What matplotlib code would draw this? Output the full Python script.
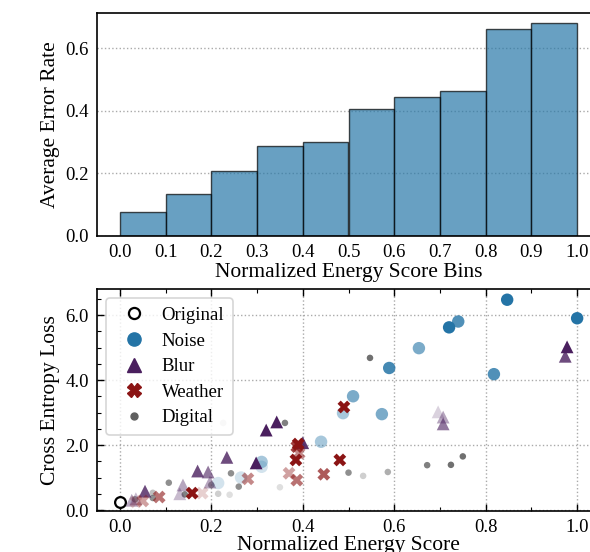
import matplotlib
matplotlib.use("Agg")
import matplotlib.pyplot as plt
import numpy as np

plt.rcParams['font.family'] = ['Liberation Serif', 'DejaVu Serif']
plt.rcParams['mathtext.fontset'] = 'stix'

# ---- data: top histogram ----
bin_edges = [0.0, 0.1, 0.2, 0.3, 0.4, 0.5, 0.6, 0.7, 0.8, 0.9, 1.0]
error_rate = [0.077, 0.134, 0.208, 0.286, 0.300, 0.407, 0.443, 0.462, 0.660, 0.680]

# ---- data: bottom scatter (x, y, alpha = severity shade) ----
orig_x = [0.0]
orig_y = [0.25]

noise_x = [0.847, 1.0, 0.72, 0.74, 0.654, 0.589, 0.818, 0.51, 0.573, 0.488, 0.44, 0.31, 0.31, 0.265, 0.215]
noise_y = [6.47, 5.90, 5.62, 5.80, 4.98, 4.37, 4.18, 3.50, 2.95, 2.98, 2.10, 1.48, 1.33, 1.00, 0.83]
noise_a = [1.0, 1.0, 1.0, 0.8, 0.6, 0.85, 0.8, 0.6, 0.6, 0.4, 0.4, 0.4, 0.2, 0.2, 0.2]

blur_x = [0.978, 0.974, 0.343, 0.32, 0.40, 0.298, 0.234, 0.17, 0.193, 0.707, 0.707, 0.696, 0.197, 0.138, 0.131, 0.055, 0.026, 0.035]
blur_y = [5.02, 4.73, 2.71, 2.46, 2.07, 1.45, 1.62, 1.20, 1.17, 2.65, 2.86, 3.02, 0.86, 0.77, 0.50, 0.58, 0.30, 0.35]
blur_a = [1.0, 0.8, 1.0, 1.0, 0.9, 1.0, 0.8, 0.8, 0.6, 0.6, 0.4, 0.2, 0.4, 0.4, 0.3, 0.8, 0.4, 0.3]

weather_x = [0.49, 0.39, 0.387, 0.392, 0.385, 0.481, 0.446, 0.37, 0.387, 0.28, 0.158, 0.18, 0.086, 0.05, 0.035]
weather_y = [3.17, 2.03, 1.95, 1.75, 1.54, 1.54, 1.10, 1.13, 0.92, 0.96, 0.52, 0.52, 0.40, 0.28, 0.25]
weather_a = [1.0, 1.0, 0.8, 0.5, 1.0, 1.0, 0.7, 0.4, 0.6, 0.5, 1.0, 0.2, 0.6, 0.4, 0.2]

digital_x = [0.547, 0.361, 0.226, 0.75, 0.724, 0.672, 0.586, 0.50, 0.532, 0.243, 0.26, 0.35, 0.107, 0.2, 0.215, 0.24, 0.142, 0.072, 0.072, 0.033]
digital_y = [4.68, 2.68, 2.68, 1.65, 1.39, 1.38, 1.17, 1.15, 1.05, 1.13, 0.72, 0.70, 0.84, 0.77, 0.50, 0.47, 0.48, 0.53, 0.37, 0.33]
digital_a = [0.9, 0.8, 0.2, 0.9, 0.9, 0.8, 0.5, 0.7, 0.3, 0.7, 0.7, 0.2, 0.7, 0.6, 0.3, 0.2, 0.8, 0.4, 0.7, 0.6]

legend_labels = ['Original', 'Noise', 'Blur', 'Weather', 'Digital']

c_noise = '#2474a6'
c_blur = '#4a1f5e'
c_weather = '#8b1414'
c_digital = '#606060'

W, H = 590, 552
fig = plt.figure(figsize=(W / 100, H / 100), dpi=100)

# ---------- top ----------
ax1 = fig.add_axes([97 / W, 1 - 236 / H, 503 / W, (236 - 13) / H])
widths = np.diff(bin_edges)
ax1.bar(bin_edges[:-1], error_rate, width=widths, align='edge',
        color='#2878a8', alpha=0.7, edgecolor='black', linewidth=1.0, zorder=2)
ax1.set_xlim(-0.05, 1.05)
ax1.set_ylim(0, 0.712)
ax1.set_xticks(bin_edges)
ax1.set_xticklabels([f'{v:.1f}' for v in bin_edges])
ax1.set_yticks([0.0, 0.2, 0.4, 0.6])
ax1.set_yticklabels(['0.0', '0.2', '0.4', '0.6'])
ax1.tick_params(length=0, labelsize=13.5, pad=6)
ax1.grid(axis='y', linestyle=':', color='#aaaaaa', linewidth=1.0, zorder=0)
ax1.set_axisbelow(True)
ax1.set_xlabel('Normalized Energy Score Bins', fontsize=15.5, labelpad=1)
ax1.set_ylabel('Average Error Rate', fontsize=15.5, labelpad=4)
for s in ax1.spines.values():
    s.set_linewidth(1.2)

# ---------- bottom ----------
ax2 = fig.add_axes([97 / W, 1 - 511 / H, 503 / W, (511 - 289) / H])


def rgba(c, alphas):
    base = np.array(matplotlib.colors.to_rgba(c))
    out = np.tile(base, (len(alphas), 1))
    out[:, 3] = alphas
    return out


ax2.scatter(digital_x, digital_y, s=22, c=rgba(c_digital, digital_a), marker='o',
            edgecolors='none', zorder=3)
ax2.scatter(noise_x, noise_y, s=80, c=rgba(c_noise, noise_a), marker='o',
            edgecolors='none', zorder=3)
ax2.scatter(blur_x, blur_y, s=85, c=rgba(c_blur, blur_a), marker='^',
            edgecolors='none', zorder=3)
ax2.scatter(weather_x, weather_y, s=85, c=rgba(c_weather, weather_a), marker='X',
            edgecolors='none', zorder=3)
ax2.scatter(orig_x, orig_y, s=60, facecolors='white', edgecolors='black',
            linewidths=1.6, marker='o', zorder=4)

h = [
    plt.Line2D([], [], marker='o', ls='none', markersize=8, markerfacecolor='white',
               markeredgecolor='black', markeredgewidth=1.6),
    plt.Line2D([], [], marker='o', ls='none', markersize=9.5, color=c_noise),
    plt.Line2D([], [], marker='^', ls='none', markersize=9.5, color=c_blur),
    plt.Line2D([], [], marker='X', ls='none', markersize=9.5, color=c_weather),
    plt.Line2D([], [], marker='o', ls='none', markersize=5, color=c_digital),
]
leg = ax2.legend(h, legend_labels, loc='upper left', fontsize=13.5, frameon=True,
                 handletextpad=0.5, borderpad=0.45, labelspacing=0.45,
                 bbox_to_anchor=(0.0, 1.0), borderaxespad=0.5)
leg.get_frame().set_edgecolor('#cccccc')
leg.get_frame().set_linewidth(1.2)

ax2.set_xlim(-0.05, 1.05)
ax2.set_ylim(-0.03, 6.8)
ax2.set_xticks([0.0, 0.2, 0.4, 0.6, 0.8, 1.0])
ax2.set_xticklabels(['0.0', '0.2', '0.4', '0.6', '0.8', '1.0'])
ax2.set_yticks([0.0, 2.0, 4.0, 6.0])
ax2.set_yticklabels(['0.0', '2.0', '4.0', '6.0'])
ax2.set_xticks(np.arange(0.0, 1.05, 0.1), minor=True)
ax2.set_yticks(np.arange(0.0, 6.8, 0.5), minor=True)
ax2.tick_params(which='both', direction='in', top=True, right=True, labelsize=13.5)
ax2.tick_params(which='major', length=5, width=1.0, pad=6)
ax2.tick_params(which='minor', length=3, width=0.8)
ax2.grid(which='major', linestyle=':', color='#aaaaaa', linewidth=1.0, zorder=0)
ax2.set_axisbelow(True)
ax2.set_xlabel('Normalized Energy Score', fontsize=15.5, labelpad=0)
ax2.set_ylabel('Cross Entropy Loss', fontsize=15.5, labelpad=4)
for s in ax2.spines.values():
    s.set_linewidth(1.2)

fig.savefig('out.png', dpi=100)
